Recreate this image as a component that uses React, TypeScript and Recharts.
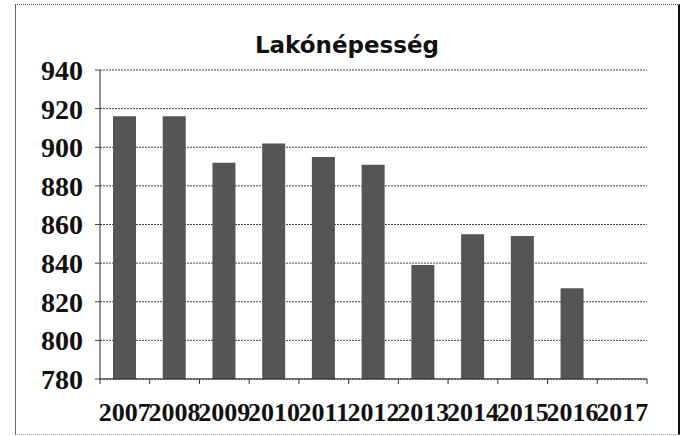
import React from 'react'
import { BarChart, Bar, XAxis, YAxis, CartesianGrid } from 'recharts'

const years = ['2007', '2008', '2009', '2010', '2011', '2012', '2013', '2014', '2015', '2016', '2017']
const population: (number | null)[] = [916, 916, 892, 902, 895, 891, 839, 855, 854, 827, null]
const yTicks = [780, 800, 820, 840, 860, 880, 900, 920, 940]

const data = years.map((year, i) => ({ year, value: population[i] }))

const W = 690
const H = 436
const M = { top: 70, right: 43, bottom: 27, left: 0 }
const Y_AXIS_W = 100
const BAND = (W - M.left - M.right - Y_AXIS_W) / years.length

const SANS = '"DejaVu Sans", sans-serif'
const SERIF = '"Liberation Serif", serif'

// category ticks sit between the bars, labels in the middle
const YearTick = (props: any) => {
  const { x, y, payload, index } = props
  const half = BAND / 2
  return (
    <g>
      <line x1={x - half} x2={x - half} y1={y} y2={y + 5} stroke="#333" />
      {index === years.length - 1 && (
        <line x1={x + half} x2={x + half} y1={y} y2={y + 5} stroke="#333" />
      )}
      <text x={x} y={y + 42} textAnchor="middle" fontFamily={SERIF} fontWeight="bold" fontSize={26} fill="#111">
        {payload.value}
      </text>
    </g>
  )
}

const App: React.FC = () => {
  return (
    <div style={{ position: 'absolute', left: 0, top: 0, width: W, height: H, background: '#fff' }}>
      <div
        style={{
          position: 'absolute',
          left: 15,
          top: 4,
          width: 662,
          height: 429,
          borderLeft: '1px solid #666',
          borderTop: '1px dotted #444',
          borderRight: '2px solid #111',
          borderBottom: '1px dotted #aaa',
        }}
      />
      <svg style={{ position: 'absolute', left: 0, top: 0 }} width={W} height={H}>
        <text x={347} y={53} textAnchor="middle" fontFamily={SANS} fontWeight="bold" fontSize={23} fill="#111">
          Lakónépesség
        </text>
      </svg>
      <div style={{ position: 'absolute', left: 0, top: 0 }}>
        <BarChart width={W} height={H} data={data} margin={M}>
          <CartesianGrid vertical={false} stroke="#444" strokeDasharray="2 1" />
          <XAxis
            dataKey="year"
            interval={0}
            height={30}
            tickSize={0}
            tickMargin={0}
            tickLine={false}
            axisLine={{ stroke: '#222' }}
            tick={<YearTick />}
          />
          <YAxis
            width={Y_AXIS_W}
            domain={[780, 940]}
            ticks={yTicks}
            interval={0}
            tickSize={5}
            tickMargin={12}
            axisLine={{ stroke: '#222' }}
            tickLine={{ stroke: '#444' }}
            tick={{ fontFamily: SERIF, fontWeight: 'bold', fontSize: 28, fill: '#111' }}
          />
          <Bar dataKey="value" barSize={23} fill="#555" isAnimationActive={false} />
        </BarChart>
      </div>
    </div>
  )
}

export default App
